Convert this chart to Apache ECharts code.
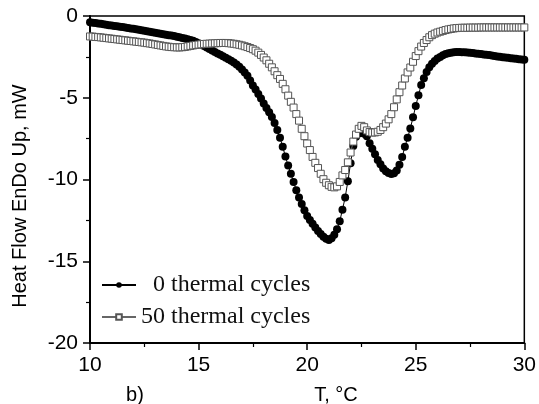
<!DOCTYPE html>
<html>
<head>
<meta charset="utf-8">
<script src="https://cdn.jsdelivr.net/npm/echarts@6/dist/echarts.min.js"></script>
<style>
html,body{margin:0;padding:0;background:#fff;}
#chart{width:539px;height:404px;}
</style>
</head>
<body>
<div id="chart"></div>
<script>
// Temperature sampling grid (°C)
const T_START = 10;
const T_STEP = 0.125;

// Heat flow, mW — 0 thermal cycles (filled circles)
const heat0 = [
  -0.38,-0.41,-0.43,-0.46,-0.48,-0.51,-0.53,-0.56,
  -0.58,-0.61,-0.63,-0.66,-0.68,-0.71,-0.73,-0.76,
  -0.78,-0.81,-0.84,-0.87,-0.90,-0.93,-0.96,-0.99,
  -1.02,-1.05,-1.08,-1.11,-1.14,-1.17,-1.20,-1.23,
  -1.27,-1.30,-1.34,-1.38,-1.42,-1.47,-1.52,-1.59,
  -1.66,-1.75,-1.84,-1.93,-2.02,-2.11,-2.20,-2.29,
  -2.37,-2.46,-2.55,-2.64,-2.74,-2.85,-2.97,-3.11,
  -3.27,-3.45,-3.65,-3.95,-4.25,-4.50,-4.77,-5.05,
  -5.35,-5.62,-5.88,-6.18,-6.55,-6.98,-7.45,-8.00,
  -8.60,-9.15,-9.65,-10.15,-10.65,-11.10,-11.50,-11.88,
  -12.23,-12.48,-12.70,-12.93,-13.15,-13.33,-13.50,-13.62,
  -13.70,-13.60,-13.38,-13.05,-12.55,-11.85,-11.10,-10.10,
  -9.00,-7.95,-7.38,-7.18,-7.12,-7.20,-7.35,-7.78,
  -8.12,-8.45,-8.80,-9.07,-9.33,-9.50,-9.60,-9.66,
  -9.62,-9.45,-9.10,-8.62,-8.00,-7.45,-6.88,-6.20,
  -5.50,-4.85,-4.22,-3.80,-3.42,-3.13,-2.92,-2.75,
  -2.60,-2.50,-2.40,-2.33,-2.28,-2.25,-2.22,-2.20,
  -2.20,-2.21,-2.22,-2.23,-2.25,-2.27,-2.29,-2.31,
  -2.33,-2.35,-2.37,-2.39,-2.42,-2.44,-2.47,-2.49,
  -2.52,-2.54,-2.56,-2.58,-2.60,-2.62,-2.64,-2.66,
  -2.68
];

// Heat flow, mW — 50 thermal cycles (open squares)
const heat50 = [
  -1.25,-1.26,-1.28,-1.29,-1.31,-1.33,-1.35,-1.37,
  -1.39,-1.41,-1.43,-1.45,-1.47,-1.49,-1.51,-1.53,
  -1.55,-1.57,-1.59,-1.61,-1.63,-1.66,-1.68,-1.71,
  -1.74,-1.77,-1.80,-1.83,-1.86,-1.88,-1.90,-1.91,
  -1.92,-1.92,-1.91,-1.89,-1.86,-1.83,-1.80,-1.77,
  -1.75,-1.73,-1.71,-1.70,-1.69,-1.68,-1.67,-1.66,
  -1.65,-1.65,-1.65,-1.66,-1.68,-1.70,-1.73,-1.76,
  -1.80,-1.85,-1.90,-1.96,-2.03,-2.12,-2.24,-2.38,
  -2.54,-2.71,-2.92,-3.14,-3.38,-3.62,-3.85,-4.15,
  -4.48,-4.87,-5.25,-5.60,-6.00,-6.40,-6.90,-7.35,
  -7.80,-8.20,-8.62,-8.98,-9.30,-9.65,-9.98,-10.20,
  -10.35,-10.45,-10.48,-10.42,-10.15,-9.75,-9.42,-8.95,
  -8.35,-7.68,-7.25,-6.90,-6.72,-6.80,-7.00,-7.10,
  -7.13,-7.12,-7.08,-6.97,-6.80,-6.58,-6.32,-6.00,
  -5.58,-5.10,-4.66,-4.25,-3.82,-3.45,-3.15,-2.80,
  -2.45,-2.15,-1.87,-1.65,-1.47,-1.30,-1.17,-1.08,
  -1.01,-0.96,-0.91,-0.86,-0.82,-0.79,-0.76,-0.74,
  -0.73,-0.72,-0.72,-0.72,-0.71,-0.71,-0.71,-0.71,
  -0.70,-0.70,-0.70,-0.70,-0.70,-0.70,-0.70,-0.70,
  -0.70,-0.70,-0.70,-0.70,-0.70,-0.70,-0.70,-0.70,
  -0.70
];

const seriesNames = ['  0 thermal cycles', '50 thermal cycles'];
const xTicks = [10, 15, 20, 25, 30];
const yTicks = [-20, -15, -10, -5, 0];
const xTitle = 'T, °C';
const yTitle = 'Heat Flow EnDo Up, mW';
const panelLabel = 'b)';

const temps = heat0.map((_, i) => T_START + i * T_STEP);
const pairs = arr => arr.map((v, i) => [temps[i], v]);

const sansFont = '"Liberation Sans", Arial, sans-serif';
const serifFont = '"Liberation Serif", "Times New Roman", serif';

const chart = echarts.init(document.getElementById('chart'), null, {renderer: 'canvas'});
chart.setOption({
  animation: false,
  backgroundColor: '#fff',
  grid: {
    left: 90, right: 9, top: 16, bottom: 61,
    show: true, borderColor: '#000', borderWidth: 1.5, backgroundColor: 'transparent'
  },
  xAxis: {
    type: 'value',
    min: xTicks[0], max: xTicks[xTicks.length - 1], interval: 5,
    axisLine: {show: true, onZero: false, lineStyle: {color: '#000', width: 2}},
    axisTick: {show: true, inside: false, length: 7, lineStyle: {color: '#000', width: 1.5}},
    minorTick: {show: true, splitNumber: 2, length: 4, lineStyle: {color: '#000', width: 1.2}},
    splitLine: {show: false},
    minorSplitLine: {show: false},
    axisLabel: {color: '#000', fontSize: 21, fontFamily: sansFont, margin: 12}
  },
  yAxis: {
    type: 'value',
    min: yTicks[0], max: yTicks[yTicks.length - 1], interval: 5,
    axisLine: {show: true, onZero: false, lineStyle: {color: '#000', width: 2}},
    axisTick: {show: true, inside: false, length: 7, lineStyle: {color: '#000', width: 1.5}},
    minorTick: {show: true, splitNumber: 2, length: 4, lineStyle: {color: '#000', width: 1.2}},
    splitLine: {show: false},
    minorSplitLine: {show: false},
    axisLabel: {color: '#000', fontSize: 21, fontFamily: sansFont, margin: 12}
  },
  legend: {
    show: true,
    orient: 'vertical',
    left: 101, top: 273,
    padding: 0,
    itemWidth: 34, itemHeight: 7, itemGap: 8,
    selectedMode: false,
    textStyle: {color: '#111', fontSize: 24, fontFamily: serifFont},
    data: seriesNames
  },
  series: [
    {
      name: seriesNames[0],
      type: 'line',
      data: pairs(heat0),
      symbol: 'circle',
      symbolSize: 8,
      showSymbol: true,
      showAllSymbol: true,
      itemStyle: {color: '#000', borderColor: '#000', borderWidth: 0},
      lineStyle: {color: '#000', width: 1},
      emphasis: {disabled: true},
      z: 2
    },
    {
      name: seriesNames[1],
      type: 'line',
      data: pairs(heat50),
      symbol: 'rect',
      symbolSize: 7,
      showSymbol: true,
      showAllSymbol: true,
      itemStyle: {color: '#fff', borderColor: '#555', borderWidth: 1},
      lineStyle: {color: '#666', width: 1},
      emphasis: {disabled: true},
      z: 3
    }
  ],
  graphic: [
    {
      type: 'text', x: 20, y: 196, rotation: Math.PI / 2,
      style: {text: yTitle, font: '20px ' + sansFont, fill: '#000',
              align: 'center', verticalAlign: 'middle', textAlign: 'center', textVerticalAlign: 'middle'}
    },
    {
      type: 'text', x: 336, y: 395,
      style: {text: xTitle, font: '20px ' + sansFont, fill: '#000',
              align: 'center', verticalAlign: 'middle', textAlign: 'center', textVerticalAlign: 'middle'}
    },
    {
      type: 'text', x: 135, y: 395,
      style: {text: panelLabel, font: '20px ' + sansFont, fill: '#000',
              align: 'center', verticalAlign: 'middle', textAlign: 'center', textVerticalAlign: 'middle'}
    }
  ]
});
</script>
</body>
</html>
